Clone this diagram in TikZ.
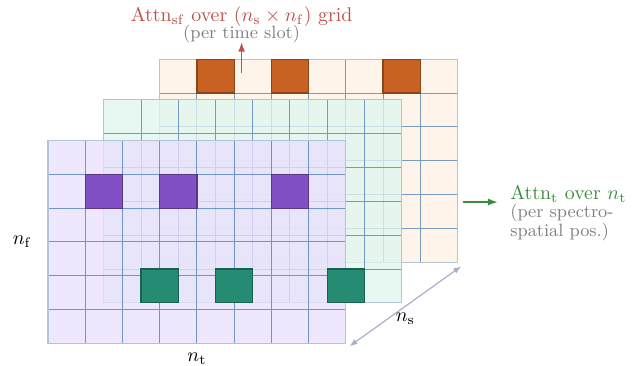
\documentclass[tikz,border=0pt]{standalone}
\usepackage{amsmath}
\usepackage{xcolor}
\usetikzlibrary{arrows.meta,positioning}

\definecolor{gridblue}{RGB}{62,118,176}
\definecolor{framegray}{RGB}{178,196,216}
\definecolor{frontfill}{RGB}{233,224,253}
\definecolor{midfill}{RGB}{224,246,240}
\definecolor{backfill}{RGB}{255,241,228}
\definecolor{sfpurple}{RGB}{128,80,196}
\definecolor{tteal}{RGB}{37,140,115}
\definecolor{sforange}{RGB}{200,98,34}
\definecolor{sfred}{RGB}{192,80,77}
\definecolor{tgreen}{RGB}{60,140,60}
\definecolor{nsgray}{RGB}{168,176,198}

\begin{document}
\begin{tikzpicture}[
			x=0.66cm, y=0.6cm,
			gridline/.style={draw=gridblue, draw opacity=0.7, line width=0.5pt, step=1},
			layerframe/.style={draw=framegray, line width=0.6pt},
			hotcell/.style={line width=0.6pt},
			label/.style={inner sep=0pt, font=\normalsize},
			note/.style={inner sep=0pt, font={\fontsize{9}{9.6}\selectfont}, text=gray, align=left},
			dim/.style={draw=nsgray, line width=0.6pt, {Latex[length=4pt,width=3pt]}-{Latex[length=4pt,width=3pt]}},
			line/.style={draw, -{Latex[length=5pt,width=3.5pt]}, line width=0.9pt}
			]
			\useasboundingbox (-1.29,-0.665) rectangle (16.01,10.15);
			% Schichten (hinten -> vorne)
			\foreach \dx/\dy/\fc in {3/2.4/backfill, 1.5/1.2/midfill, 0/0/frontfill} {
				\begin{scope}[shift={(\dx,\dy)}]
					\fill[\fc, fill opacity=0.78] (0,0) rectangle (8,6);
					\draw[gridline] (0,0) grid (8,6);
					\draw[layerframe] (0,0) rectangle (8,6);
				\end{scope}
			}
			% Markierte Zellen
			\foreach \c in {1,3,6} {
				\draw[hotcell, fill=sforange, draw=sforange!70!black] (3+\c,7.4) rectangle (4+\c,8.4);
				\draw[hotcell, fill=tteal, draw=tteal!70!black] (1.5+\c,1.2) rectangle (2.5+\c,2.2);
				\draw[hotcell, fill=sfpurple, draw=sfpurple!70!black] (\c,4) rectangle (1+\c,5);
			}
			% Achsen
			\node[left] (nf) at (-0.25,3) {$n_\mathrm{f}$};
			\node[below] (nt) at (4,-0.08) {$n_\mathrm{t}$};
			\coordinate (nsa) at (8.1,-0.08);
			\coordinate (nsb) at (11.1,2.28);
			\path[dim] (nsa) -- node[below] (ns) {$n_\mathrm{s}$} (nsb);
			% Beschriftungen
			\coordinate (sfpt) at (5.2,8.0);
			\node[note, anchor=base] (sfsub) at (5.2,9.0) {(per time slot)};
			\node[label, anchor=base, text=sfred] (sftitle) at (5.2,9.51) {Attn$_\mathrm{sf}$ over $(n_\mathrm{s}\times n_\mathrm{f})$ grid};
			\path[line, draw=sfred] (sfpt) -- ([yshift=1pt]sfsub.south);
			\coordinate (tpt) at (11.14,4.18);
			\coordinate (ttip) at (12.09,4.18);
			\path[line, draw=tgreen] (tpt) -- (ttip);
			\node[label, anchor=base west, text=tgreen] (ttitle) at (12.41,4.26) {Attn$_\mathrm{t}$ over $n_\mathrm{t}$};
			\node[note, anchor=north west] (tsub) at (12.41,4.14) {(per spectro-\\spatial pos.)};
		\end{tikzpicture}
\end{document}
